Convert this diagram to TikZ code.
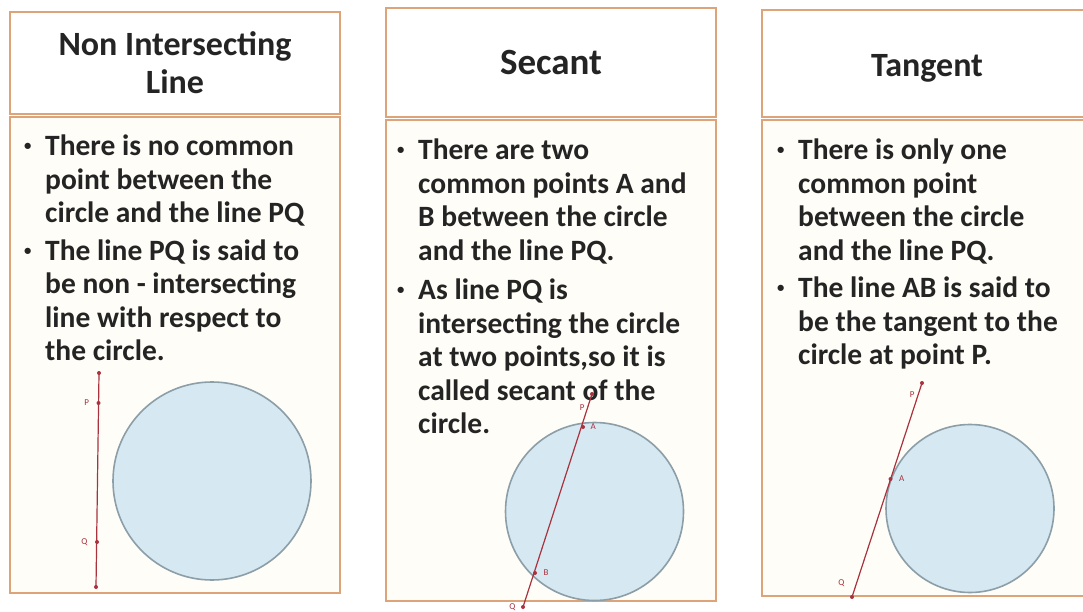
\documentclass[tikz,border=0pt]{standalone}
\usepackage{fontspec}
\setmainfont{Carlito}
\definecolor{frame}{HTML}{DDA47A}
\definecolor{paper}{HTML}{FFFDF7}
\definecolor{ink}{HTML}{242424}
\definecolor{sky}{HTML}{D6E9F2}
\definecolor{rim}{HTML}{8C9EA8}
\definecolor{wine}{HTML}{A8323E}
\newcommand{\itm}{\makebox[21pt][l]{\raisebox{0.35ex}{\scalebox{0.5}{\textbullet}}}}
\newcommand{\ind}{\hspace*{21pt}}

\begin{document}
\begin{tikzpicture}[x=1pt,y=-1pt,
    panel/.style={draw=frame,line width=2.5pt},
    head/.style={font=\bfseries\fontsize{34}{38}\selectfont,text=ink,align=center},
    body/.style={anchor=north west,inner sep=0pt,
      font=\bfseries\fontsize{29.5}{33.5}\selectfont,text=ink,align=left},
    disc/.style={draw=rim,fill=sky,line width=1.6pt},
    pq/.style={draw=wine,line width=1.2pt},
    tip/.style={circle,fill=wine,inner sep=0pt,minimum size=4pt},
    lbl/.style={font=\fontsize{9}{9}\selectfont,text=wine}]
  \useasboundingbox (0,0) rectangle (1083,612);

  % non intersecting line
  \draw[panel,fill=white] (10,12) rectangle (340,114);
  \draw[panel,fill=paper] (10,117) rectangle (340,593);
  \node[head] (hdNon) at (175,63) {Non Intersecting\\Line};
  \node[body] (txNon) at (24,135)
    {\itm There is no common\\ \ind point between the\\ \ind circle and the line PQ\\[4pt]
     \itm The line PQ is said to\\ \ind be non - intersecting\\ \ind line with respect to\\ \ind the circle.};
  \node[disc,circle,minimum size=198pt] (cNon) at (212,481) {};
  \coordinate (tNon) at (99,373);
  \coordinate (pNon) at (98.5,403);
  \coordinate (qNon) at (97,542);
  \coordinate (bNon) at (96,587);
  \draw[pq] (tNon) -- (bNon);
  \foreach \c in {tNon,pNon,qNon,bNon} \node[tip] at (\c) {};
  \node[lbl,left=6pt] at (pNon) {P};
  \node[lbl,left=6pt] at (qNon) {Q};

  % secant
  \draw[panel,fill=white] (386,8) rectangle (716,117);
  \draw[panel,fill=paper] (386,120) rectangle (716,601);
  \node[head,font=\bfseries\fontsize{37}{40}\selectfont] (hdSec) at (551,63) {Secant};
  \node[body] (txSec) at (397,139)
    {\itm There are two\\ \ind common points A and\\ \ind B between the circle\\ \ind and the line PQ.\\[6pt]
     \itm As line PQ is\\ \ind intersecting the circle\\ \ind at two points,so it is\\ \ind called secant of the\\ \ind circle.};
  \node[disc,circle,minimum size=178pt] (cSec) at (594.5,511.5) {};
  \coordinate (pSec) at (592,394);
  \coordinate (aSec) at (583,427);
  \coordinate (bSec) at (535,573);
  \coordinate (qSec) at (523,607);
  \draw[pq] (pSec) -- (qSec);
  \foreach \c in {pSec,aSec,bSec,qSec} \node[tip] at (\c) {};
  \node[lbl,left=4pt] at ([yshift=-14pt]pSec) {P};
  \node[lbl,right=4pt] at (aSec) {A};
  \node[lbl,right=5pt] at (bSec) {B};
  \node[lbl,left=4pt] at (qSec) {Q};

  % tangent
  \draw[panel,fill=white] (762,10) rectangle (1095,117);
  \draw[panel,fill=paper] (762,120) rectangle (1095,596);
  \node[head] (hdTan) at (927,68) {Tangent};
  \node[body] (txTan) at (777,139)
    {\itm There is only one\\ \ind common point\\ \ind between the circle\\ \ind and the line PQ.\\[4pt]
     \itm The line AB is said to\\ \ind be the tangent to the\\ \ind circle at point P.};
  \node[disc,circle,minimum size=168pt] (cTan) at (970,508.5) {};
  \coordinate (pTan) at (922,383);
  \coordinate (aTan) at (890.5,479);
  \coordinate (qTan) at (852,597);
  \draw[pq] (pTan) -- (qTan);
  \foreach \c in {pTan,aTan,qTan} \node[tip] at (\c) {};
  \node[lbl,left=4pt] at ([yshift=-12pt]pTan) {P};
  \node[lbl,right=5pt] at (aTan) {A};
  \node[lbl,left=4pt] at ([yshift=14pt]qTan) {Q};
\end{tikzpicture}
\end{document}
